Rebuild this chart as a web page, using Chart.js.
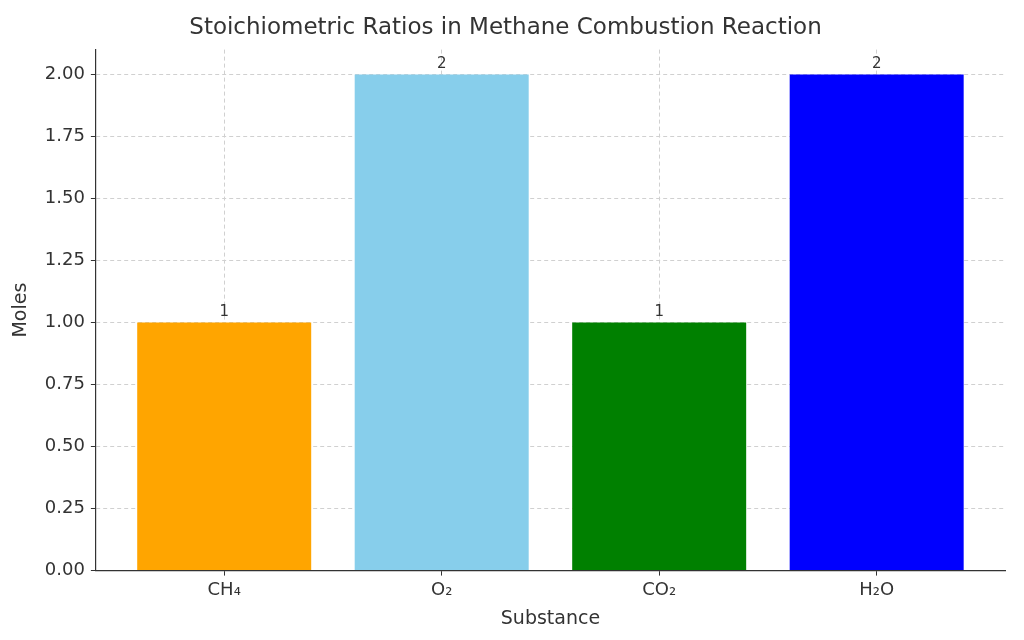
<!DOCTYPE html>
<html><head><meta charset="utf-8">
<script src="https://cdn.jsdelivr.net/npm/chart.js@4"></script>
<style>html,body{margin:0;background:#fff}#wrap{width:1024px;height:640px}</style>
</head><body><div id="wrap"><canvas id="c"></canvas></div>
<script>
// data
const substances = ["CH₄", "O₂", "CO₂", "H₂O"];
const moles = [1, 2, 1, 2];
const barColors = ["orange", "skyblue", "green", "blue"];
const yTicks = [0, 0.25, 0.5, 0.75, 1, 1.25, 1.5, 1.75, 2];

const FONT = "'DejaVu Sans', sans-serif";

const valueLabels = {
  id: "valueLabels",
  afterDatasetsDraw(chart) {
    const ctx = chart.ctx;
    const meta = chart.getDatasetMeta(0);
    ctx.save();
    ctx.font = "15px " + FONT;
    ctx.fillStyle = "#333";
    ctx.textAlign = "center";
    ctx.textBaseline = "bottom";
    meta.data.forEach((bar, i) => ctx.fillText(String(moles[i]), bar.x, bar.y - 3));
    ctx.restore();
  }
};

new Chart(document.getElementById("c"), {
  type: "bar",
  data: {
    datasets: [{
      data: moles.map((v, i) => ({ x: i, y: v })),
      backgroundColor: barColors,
      barPercentage: 0.8,
      categoryPercentage: 1
    }]
  },
  options: {
    responsive: true,
    maintainAspectRatio: false,
    animation: false,
    layout: { padding: { left: 6, right: 19, top: 0, bottom: 6 } },
    plugins: {
      legend: { display: false },
      tooltip: { enabled: false },
      title: {
        display: true,
        text: "Stoichiometric Ratios in Methane Combustion Reaction",
        color: "#333",
        font: { family: FONT, size: 23, weight: "normal" },
        padding: { top: 14, bottom: 8 }
      }
    },
    scales: {
      x: {
        type: "linear",
        offset: false,
        min: -0.59,
        max: 3.59,
        afterBuildTicks: (s) => { s.ticks = substances.map((_, i) => ({ value: i })); },
        ticks: {
          callback: (v) => substances[v],
          color: "#333",
          font: { family: FONT, size: 18 },
          padding: 4
        },
        grid: { offset: false, color: "#d0d0d0", drawTicks: true, tickColor: "#333", tickLength: 5 },
        border: { display: true, color: "#333", width: 1.2, dash: [4, 3] },
        title: { display: true, text: "Substance", color: "#333", font: { family: FONT, size: 19 }, padding: { top: 2 } }
      },
      y: {
        min: 0,
        max: 2.1,
        afterBuildTicks: (s) => { s.ticks = yTicks.map(v => ({ value: v })); },
        ticks: {
          callback: (v) => v.toFixed(2),
          color: "#333",
          font: { family: FONT, size: 18 },
          padding: 6
        },
        grid: { color: "#d0d0d0", drawTicks: true, tickColor: "#333", tickLength: 5 },
        border: { display: true, color: "#333", width: 1.2, dash: [4, 3] },
        title: { display: true, text: "Moles", color: "#333", font: { family: FONT, size: 19 }, padding: { bottom: 6 } }
      }
    }
  },
  plugins: [valueLabels]
});
</script></body></html>
